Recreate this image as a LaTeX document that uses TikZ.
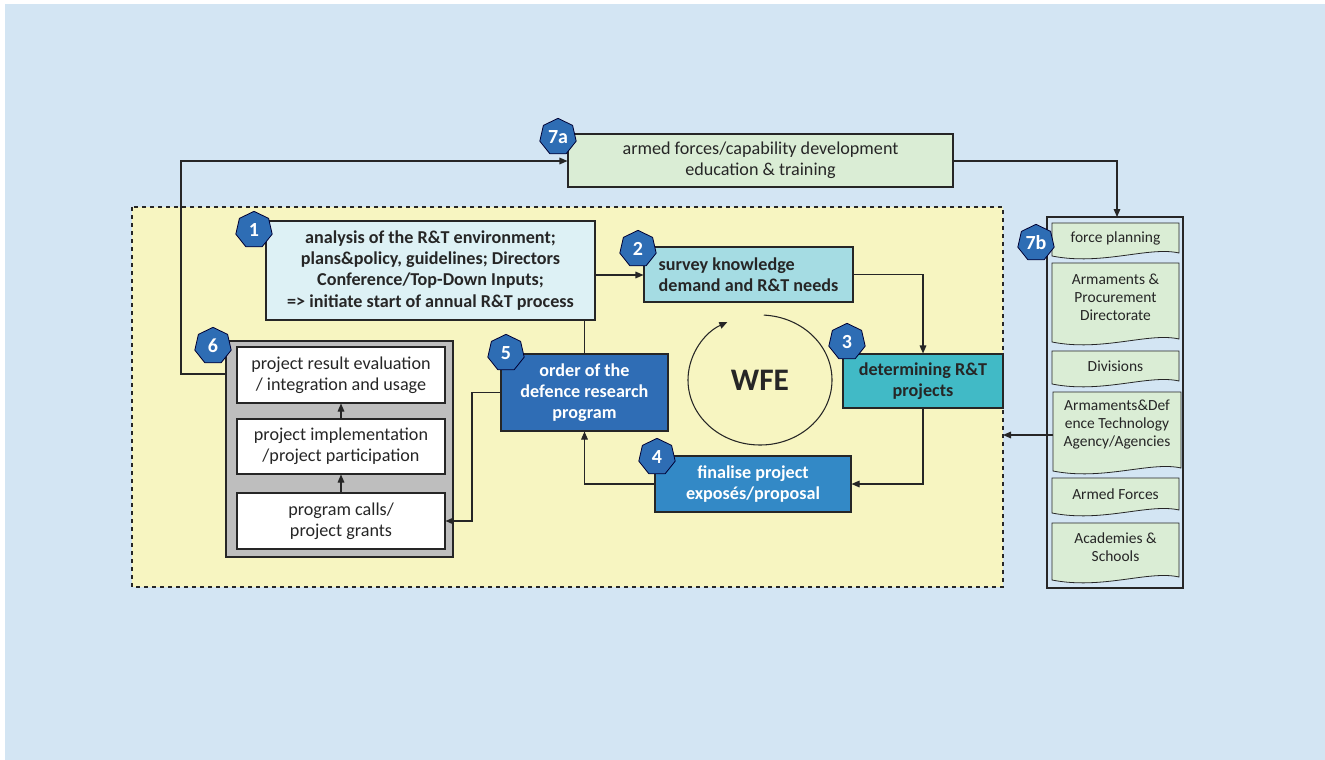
\documentclass[tikz,border=0pt]{standalone}
\usepackage{fontspec}
\setmainfont{Carlito}
\usetikzlibrary{shapes.geometric,shapes.symbols,arrows.meta}
\definecolor{bgblue}{HTML}{D3E5F3}
\definecolor{yel}{HTML}{F7F5C1}
\definecolor{lgreen}{HTML}{DAEDD5}
\definecolor{cyanA}{HTML}{DDF1F5}
\definecolor{cyanB}{HTML}{A5DCE3}
\definecolor{cyanC}{HTML}{41BAC6}
\definecolor{blueD}{HTML}{3389C6}
\definecolor{blueE}{HTML}{2F6DB5}
\definecolor{badgeblue}{HTML}{2E6DB4}
\definecolor{grayF}{HTML}{BEBEBE}
\definecolor{txt}{HTML}{262626}
\definecolor{lineC}{HTML}{262626}
\tikzset{
  px/.style={x=0.75pt,y=-0.75pt},
  conn/.style={draw=lineC,line width=0.8pt},
  arr/.style={conn,-{Triangle[length=6pt,width=5pt]}},
  box/.style={draw=lineC,line width=0.8pt,inner sep=0pt,align=center,font=\fontsize{13.6}{15.8}\selectfont,text=txt},
  bbox/.style={box,font=\bfseries\fontsize{13.6}{15.8}\selectfont},
  badge/.style={regular polygon,regular polygon sides=7,fill=badgeblue,draw=black!80!blue,line width=0.6pt,
     text=white,font=\bfseries\fontsize{15}{15}\selectfont,inner sep=0pt,minimum size=28pt},
  doc/.style={draw=lineC,line width=0.6pt,fill=lgreen,text=txt,align=center,font=\fontsize{11.6}{13.5}\selectfont},
}
\begin{document}
\begin{tikzpicture}[px]
\useasboundingbox (0,0) rectangle (1325,760);
\fill[bgblue] (5,4) rectangle (1325,760);
% yellow region
\draw[fill=yel,draw=lineC,dashed,line width=0.8pt] (132,207) rectangle (1003,587);

% 7a
\node[box,fill=lgreen,minimum width=385*0.75pt,minimum height=53*0.75pt] (n7a) at (760.5,160.5)
  {armed forces/capability development\\education \& training};
\node[badge] (b7a) at (558,137) {7a};

% 7b container
\draw[draw=lineC,line width=0.8pt] (1047,217) rectangle (1183,588);
\coordinate (c7b) at (1117,217);
% documents
\newcommand{\docshape}[5]{% name, x1, y1, x2, y2
  \path[doc] (#2,#3) -- (#4,#3) -- (#4,#5-5)
    .. controls ({#4-30},#5-12) and ({#2+50},#5+8) .. (#2,#5-2) -- cycle;
  \coordinate (#1) at ({(#2+#4)/2},{(#3+#5)/2});
}
\docshape{d1}{1052}{223}{1179}{258}
\docshape{d2}{1052}{263}{1179}{344}
\docshape{d3}{1052}{351}{1179}{386}
\docshape{d4}{1053}{392}{1181}{473}
\docshape{d5}{1052}{478}{1179}{515}
\docshape{d6}{1052}{523}{1179}{582}
\node[doc,draw=none,fill=none] (t1) at (1115.5,238) {force planning};
\node[doc,draw=none,fill=none] (t2) at (1115.5,297) {Armaments \&\\Procurement\\Directorate};
\node[doc,draw=none,fill=none] (t3) at (1115.5,366) {Divisions};
\node[doc,draw=none,fill=none] (t4) at (1117,425) {Armaments\&Def\\ence Technology\\Agency/Agencies};
\node[doc,draw=none,fill=none] (t5) at (1115.5,494) {Armed Forces};
\node[doc,draw=none,fill=none] (t6) at (1115.5,547) {Academies \&\\Schools};
\node[badge] (b7b) at (1036,243) {7b};
\coordinate (d4l) at (1053,435);
\coordinate (yr) at (1003,435);

% box 1
\node[bbox,fill=cyanA,minimum width=329*0.75pt,minimum height=99*0.75pt] (n1) at (430.5,270.5)
  {analysis of the R\&T environment;\\plans\&policy, guidelines; Directors\\Conference/Top-Down Inputs;\\=> initiate start of annual R\&T process};
\node[badge] (b1) at (254,230) {1};

% box 2
\node[bbox,fill=cyanB,minimum width=209*0.75pt,minimum height=55*0.75pt,align=left] (n2) at (748.5,274.5)
  {survey knowledge\\demand and R\&T needs};
\node[badge] (b2) at (638,249) {2};

% box 3
\node[bbox,fill=cyanC,minimum width=160*0.75pt,minimum height=54*0.75pt] (n3) at (923,381)
  {determining R\&T\\projects};
\node[badge] (b3) at (847,342) {3};

% box 4
\node[bbox,fill=blueD,text=white,minimum width=196*0.75pt,minimum height=56*0.75pt] (n4) at (753,484)
  {finalise project\\exposés/proposal};
\node[badge] (b4) at (657,457) {4};

% box 5
\node[bbox,fill=blueE,text=white,minimum width=167*0.75pt,minimum height=77*0.75pt] (n5) at (584.5,392.5)
  {order of the\\defence research\\program};
\node[badge] (b5) at (506,353) {5};

% box 6
\node[draw=lineC,line width=0.8pt,fill=grayF,minimum width=227*0.75pt,minimum height=216*0.75pt,inner sep=0pt] (n6) at (339.5,449) {};
\node[box,fill=white,minimum width=208*0.75pt,minimum height=56*0.75pt] (n6a) at (341,375)
  {project result evaluation\\/ integration and usage};
\node[box,fill=white,minimum width=208*0.75pt,minimum height=55*0.75pt] (n6b) at (341,446.5)
  {project implementation\\/project participation};
\node[box,fill=white,minimum width=208*0.75pt,minimum height=56*0.75pt] (n6c) at (341,521)
  {program calls/\\project grants};
\node[badge] (b6) at (213,346) {6};

% WFE cycle
\node[font=\bfseries\fontsize{23.5}{23.5}\selectfont,text=txt] (wfe) at (760,380) {WFE};
\draw[arr] ([shift={(-87:72 and 65)}]760,380) arc[start angle=-87,end angle=243,x radius=72,y radius=65];

% connectors
\draw[arr] (n6.west |- 0,374) -| (181,161) -- (n7a.west |- 0,161);
\draw[arr] (n7a.east |- 0,161) -| (c7b);
\draw[arr] (d4l) -- (yr);
\draw[arr] (n1.east |- 0,275) -- (n2.west |- 0,275);
\draw[arr] (n2.east) -| (n3.north);
\draw[arr] (n3.south) |- (n4.east);
\draw[arr] (n4.west) -| (n5.south);
\draw[conn] (n1.south -| n5.north) -- (n5.north);
\draw[arr] (n5.west) -| (472,521) -- (n6c.east);
\draw[arr] (n6c.north) -- (n6b.south);
\draw[arr] (n6b.north) -- (n6a.south);
\end{tikzpicture}
\end{document}
